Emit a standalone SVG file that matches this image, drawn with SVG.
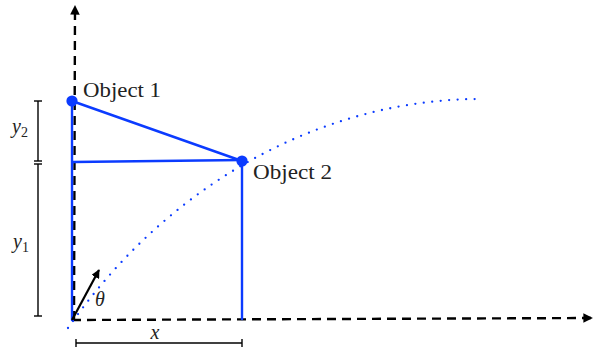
<svg xmlns="http://www.w3.org/2000/svg" width="594" height="350" viewBox="0 0 594 350">
<style>
.blue{stroke:#0b3bff;stroke-width:2.4;fill:none;stroke-linecap:round}
.axis{stroke:#000;stroke-width:2.4;fill:none;stroke-dasharray:9 6}
.dim{stroke:#000;stroke-width:1.4;fill:none}
.lbl{font-family:"Liberation Serif","DejaVu Serif",serif;font-size:20px;fill:#222}
.math{font-family:"Liberation Serif","DejaVu Serif",serif;font-size:20px;font-style:italic;fill:#222}
.sub{font-style:normal;font-size:14px}
</style>
<defs>
<marker id="ah" viewBox="0 0 10 10" refX="9" refY="5" markerWidth="4" markerHeight="4" orient="auto" markerUnits="strokeWidth">
<path d="M0,0 L10,5 L0,10 z" fill="#000"/>
</marker>
</defs>
<rect width="594" height="350" fill="#fff"/>
<g id="connectors">
<line class="axis" x1="74" y1="320" x2="75" y2="6" marker-end="url(#ah)"/>
<line class="axis" x1="72" y1="320" x2="592" y2="318" marker-end="url(#ah)"/>
<path d="M68,328 C180,168 340,99 480,99" stroke="#0b3bff" stroke-width="2.3" fill="none" stroke-linecap="round" stroke-dasharray="0 8.5"/>
<line class="blue" x1="72" y1="101" x2="72" y2="320"/>
<line class="blue" x1="72" y1="101" x2="242" y2="161"/>
<line class="blue" x1="73" y1="162" x2="242" y2="160"/>
<line class="blue" x1="242" y1="161" x2="242" y2="319"/>
<line x1="72" y1="320" x2="99" y2="270" stroke="#000" stroke-width="2.2" marker-end="url(#ah)"/>
<text class="math" x="95" y="306">θ</text>
<g id="dim-x">
<line class="dim" x1="76" y1="343" x2="242" y2="343"/>
<line class="dim" x1="76" y1="339" x2="76" y2="347"/>
<line class="dim" x1="242" y1="339" x2="242" y2="347"/>
<text class="math" x="155" y="339" text-anchor="middle">x</text>
</g>
<g id="dim-y2">
<line class="dim" x1="38" y1="101" x2="38" y2="161"/>
<line class="dim" x1="34" y1="101" x2="42" y2="101"/>
<line class="dim" x1="34" y1="161" x2="42" y2="161"/>
<text class="math" x="12" y="133">y<tspan class="sub" dy="4">2</tspan></text>
</g>
<g id="dim-y1">
<line class="dim" x1="38" y1="164" x2="38" y2="316"/>
<line class="dim" x1="34" y1="164" x2="42" y2="164"/>
<line class="dim" x1="34" y1="316" x2="42" y2="316"/>
<text class="math" x="13" y="248">y<tspan class="sub" dy="4">1</tspan></text>
</g>
</g>
<g id="object1">
<circle cx="72" cy="101" r="5.6" fill="#0b3bff"/>
<text class="lbl" x="83" y="97" textLength="78" lengthAdjust="spacingAndGlyphs">Object 1</text>
</g>
<g id="object2">
<circle cx="242" cy="161" r="5.6" fill="#0b3bff"/>
<text class="lbl" x="253" y="179" textLength="79" lengthAdjust="spacingAndGlyphs">Object 2</text>
</g>
</svg>
